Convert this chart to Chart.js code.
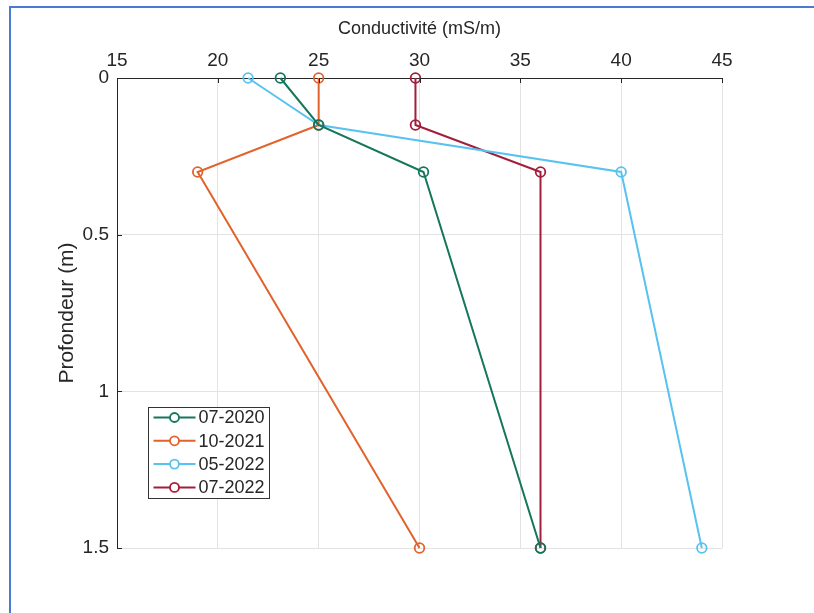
<!DOCTYPE html>
<html>
<head>
<meta charset="utf-8">
<title>Conductivité</title>
<script src="https://cdn.jsdelivr.net/npm/chart.js@4/dist/chart.umd.min.js"></script>
<style>
  html, body { margin: 0; padding: 0; background: #fff; overflow: hidden; }
  #wrap { position: relative; width: 814px; height: 613px; }
  #frame { position: absolute; left: 9px; top: 6px; right: -10px; bottom: -10px;
           border-left: 2px solid #4a7bd2; border-top: 2px solid #4a7bd2; }
  #wrap canvas { position: absolute; left: 0; top: 0; }
</style>
</head>
<body>
<div id="wrap">
  <div id="frame"></div>
  <canvas id="chart"></canvas>
</div>
<script>
// depths (m) shared by all campaigns
const depths = [0, 0.15, 0.3, 1.5];

// conductivity (mS/m) per campaign
const seriesLabels = ['07-2020', '10-2021', '05-2022', '07-2022'];
const cond072020 = [23.1, 25, 30.2, 36];
const cond102021 = [25, 25, 19, 30];
const cond052022 = [21.5, 25, 40, 44];
const cond072022 = [29.8, 29.8, 36, 36];

const xTicks = [15, 20, 25, 30, 35, 40, 45];
const yTicks = [0, 0.5, 1, 1.5];

const colors = ['#14765b', '#e2622b', '#58c2f0', '#a31e3a'];
const allSeries = [cond072020, cond102021, cond052022, cond072022];

const textColor = '#262626';
const fontFamily = '"Liberation Sans", Arial, Helvetica, sans-serif';

// plot box in page pixels
const box = { left: 117, top: 78, right: 722, bottom: 548 };
const padTop = 6, padLeft = 55;

const datasets = allSeries.map((vals, i) => ({
  label: seriesLabels[i],
  data: depths.map((d, k) => ({ x: vals[k], y: d })),
  borderColor: colors[i],
  backgroundColor: colors[i],
  borderWidth: 2,
  showLine: true,
  clip: false,
  pointRadius: 4.8,
  pointHoverRadius: 4.8,
  pointBorderWidth: 1.8,
  pointBackgroundColor: 'rgba(255,255,255,0)',
  pointBorderColor: colors[i],
  tension: 0
}));

// matlab style inner ticks + legend inside the axes
const axesExtras = {
  id: 'axesExtras',
  afterDraw(chart) {
    const ctx = chart.ctx;
    const a = chart.chartArea;
    const xs = chart.scales.x, ys = chart.scales.y;
    ctx.save();
    ctx.strokeStyle = '#262626';
    ctx.lineWidth = 1;
    ctx.beginPath();
    xTicks.forEach(v => {
      const px = Math.round(xs.getPixelForValue(v)) + 0.5;
      ctx.moveTo(px, a.top);
      ctx.lineTo(px, a.top + 5);
    });
    yTicks.forEach(v => {
      const py = Math.round(ys.getPixelForValue(v)) + 0.5;
      ctx.moveTo(a.left, py);
      ctx.lineTo(a.left + 5, py);
    });
    ctx.stroke();

    // legend
    const lx = 148.5, ly = 407.5, lw = 121, lh = 91, row = 23.3;
    ctx.fillStyle = '#fff';
    ctx.fillRect(lx, ly, lw, lh);
    ctx.strokeStyle = '#333';
    ctx.strokeRect(lx, ly, lw, lh);
    ctx.font = '18px ' + fontFamily;
    ctx.textBaseline = 'middle';
    chart.data.datasets.forEach((ds, i) => {
      const cy = ly + 10 + i * row;
      ctx.strokeStyle = ds.borderColor;
      ctx.lineWidth = 2;
      ctx.beginPath();
      ctx.moveTo(lx + 5, cy);
      ctx.lineTo(lx + 47, cy);
      ctx.stroke();
      ctx.lineWidth = 1.8;
      ctx.beginPath();
      ctx.arc(lx + 26, cy, 4.5, 0, Math.PI * 2);
      ctx.fillStyle = '#fff';
      ctx.fill();
      ctx.stroke();
      ctx.fillStyle = textColor;
      ctx.fillText(ds.label, lx + 50, cy + 1);
    });
    ctx.restore();
  }
};

new Chart(document.getElementById('chart'), {
  type: 'scatter',
  data: { datasets },
  options: {
    responsive: true,
    maintainAspectRatio: false,
    animation: false,
    events: [],
    layout: {
      padding: { top: padTop, left: padLeft, right: 814 - box.right, bottom: 613 - box.bottom }
    },
    plugins: {
      legend: { display: false },
      tooltip: { enabled: false }
    },
    scales: {
      x: {
        type: 'linear',
        position: 'top',
        min: 15,
        max: 45,
        afterBuildTicks: s => { s.ticks = xTicks.map(v => ({ value: v })); },
        afterFit: s => { s.height = box.top - padTop; },
        grid: { color: '#e3e3e3', lineWidth: 1, drawTicks: false },
        border: { display: true, color: '#262626', width: 1 },
        ticks: { color: textColor, padding: 6, font: { family: fontFamily, size: 19 } },
        title: {
          display: true,
          text: 'Conductivité (mS/m)',
          color: textColor,
          padding: { top: 12, bottom: 0 },
          font: { family: fontFamily, size: 18 }
        }
      },
      y: {
        type: 'linear',
        reverse: true,
        min: 0,
        max: 1.5,
        afterBuildTicks: s => { s.ticks = yTicks.map(v => ({ value: v })); },
        afterFit: s => { s.width = box.left - padLeft; },
        grid: { color: '#e3e3e3', lineWidth: 1, drawTicks: false },
        border: { display: true, color: '#262626', width: 1 },
        ticks: {
          color: textColor,
          padding: 8,
          font: { family: fontFamily, size: 19 },
          callback: v => String(v)
        },
        title: {
          display: true,
          text: 'Profondeur (m)',
          color: textColor,
          padding: { top: 0, bottom: 0 },
          font: { family: fontFamily, size: 21 }
        }
      }
    }
  },
  plugins: [axesExtras]
});
</script>
</body>
</html>
